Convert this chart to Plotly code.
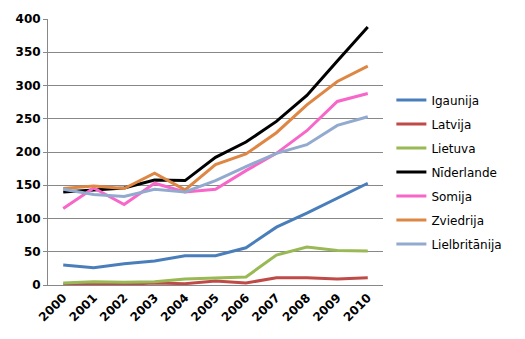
import plotly.graph_objects as go

years = ["2000", "2001", "2002", "2003", "2004", "2005", "2006", "2007", "2008", "2009", "2010"]
igaunija = [30, 26, 32, 36, 44, 44, 56, 87, 108, 131, 153]
latvija = [1, 1, 1, 3, 2, 6, 3, 11, 11, 9, 11]
lietuva = [3, 5, 4, 5, 9, 11, 12, 45, 57, 52, 51]
niderlande = [140, 143, 146, 158, 157, 192, 215, 246, 285, 337, 388]
somija = [115, 146, 121, 153, 140, 144, 172, 198, 232, 276, 288]
zviedrija = [145, 149, 145, 168, 143, 181, 197, 229, 271, 306, 329]
lielbritanija = [144, 136, 133, 144, 140, 157, 178, 198, 211, 240, 253]

series = [
    ("Igaunija", igaunija, "#4A7EBB"),
    ("Latvija", latvija, "#BE4B48"),
    ("Lietuva", lietuva, "#98B954"),
    ("Nīderlande", niderlande, "#000000"),
    ("Somija", somija, "#F766C8"),
    ("Zviedrija", zviedrija, "#DE8644"),
    ("Lielbritānija", lielbritanija, "#93AACF"),
]

fig = go.Figure()
for i, (name, vals, color) in enumerate(series):
    fig.add_trace(go.Scatter(
        x=years, y=vals, name=name, mode="lines",
        line=dict(color=color, width=3), legendgroup=f"g{i}",
    ))

fig.update_layout(
    width=525, height=339,
    margin=dict(l=48, r=142, t=16, b=54),
    paper_bgcolor="white", plot_bgcolor="white",
    font=dict(family="DejaVu Sans", size=12, color="black"),
    showlegend=True,
    legend=dict(x=1.025, y=0.425, xanchor="left", yanchor="middle",
                font=dict(family="DejaVu Sans", size=12, color="black"),
                tracegroupgap=5, bgcolor="rgba(0,0,0,0)"),
    xaxis=dict(
        type="category", range=[-0.5, 10.5], showgrid=False,
        showline=True, linecolor="#888888", linewidth=1,
        tickangle=-45, ticks="",
        tickfont=dict(family="DejaVu Sans", size=12, color="black", weight="bold"),
    ),
    yaxis=dict(
        range=[0, 400], tickvals=[0, 50, 100, 150, 200, 250, 300, 350, 400],
        showgrid=True, gridcolor="#888888", gridwidth=1,
        showline=True, linecolor="#888888", linewidth=1,
        ticks="outside", ticklen=4, tickcolor="#888888",
        zeroline=False,
        tickfont=dict(family="DejaVu Sans", size=12, color="black", weight="bold"),
    ),
)

fig.write_html("out.html")
